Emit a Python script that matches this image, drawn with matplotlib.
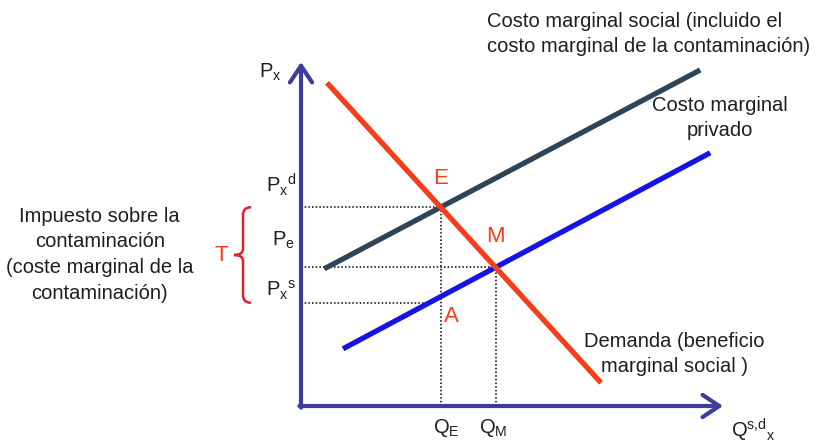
import matplotlib.pyplot as plt
import numpy as np
from matplotlib.path import Path
from matplotlib.patches import PathPatch

plt.rcParams['font.family'] = ['Liberation Sans', 'DejaVu Sans']
plt.rcParams['mathtext.fontset'] = 'custom'
plt.rcParams['mathtext.rm'] = 'Liberation Sans'
plt.rcParams['mathtext.it'] = 'Liberation Sans'

# extremos de cada curva (Q, P)
demanda_q = [0.65, 7.5]
demanda_p = [8.08, 0.58]
cms_q = [0.58, 9.98]   # costo marginal social
cms_p = [3.43, 8.40]
cmp_q = [1.05, 10.23]  # costo marginal privado
cmp_p = [1.43, 6.33]
p_s = 2.58             # precio que recibe el productor

TXT = '#1e1e1e'
ROJO = '#f53d1c'


def recta(q, p):
    m = (p[1] - p[0]) / (q[1] - q[0])
    return m, p[0] - m * q[0]


def corte(r1, r2):
    q = (r2[1] - r1[1]) / (r1[0] - r2[0])
    return q, r1[0] * q + r1[1]


dem = recta(demanda_q, demanda_p)
cms = recta(cms_q, cms_p)
cmp_ = recta(cmp_q, cmp_p)
q_e, p_d = corte(dem, cms)
q_m, p_m = corte(dem, cmp_)
q_s = (p_s - cmp_[1]) / cmp_[0]

fig = plt.figure(figsize=(8.22, 4.44), dpi=100)
ax = fig.add_axes([0, 0, 1, 1])
ax.set_xlim(-7.525, 13.025)
ax.set_ylim(-0.95, 10.15)
ax.axis('off')

# lineas punteadas
dot = dict(color='k', lw=1.1, linestyle=(0, (1, 1.4)), zorder=1)
ax.plot([0, q_e], [p_d, p_d], **dot)
ax.plot([0, q_m], [p_m, p_m], **dot)
ax.plot([0, q_s], [p_s, p_s], **dot)
ax.plot([q_e, q_e], [0, p_d], **dot)
ax.plot([q_m, q_m], [0, p_m], **dot)

# curvas
ax.plot(cms_q, cms_p, color='#2e4558', lw=3.8, solid_capstyle='butt', zorder=2)
ax.plot(cmp_q, cmp_p, color='#1414e6', lw=3.8, solid_capstyle='butt', zorder=2)
ax.plot(demanda_q, demanda_p, color=ROJO, lw=3.8, solid_capstyle='butt', zorder=3)

# ejes
eje = '#3d3d9b'
arr = dict(arrowstyle='->, head_length=0.6, head_width=0.4', color=eje, lw=3,
           mutation_scale=20, shrinkA=0, shrinkB=0)
ax.annotate('', xy=(0, 8.6), xytext=(0, -0.04), arrowprops=arr, zorder=4)
ax.annotate('', xy=(10.55, 0), xytext=(-0.04, 0), arrowprops=arr, zorder=4)

# etiquetas de ejes y precios
fs = 14.5
ax.text(-0.78, 8.35, r'$\mathregular{P_x}$', fontsize=fs, ha='center', va='center', color=TXT)
ax.text(-0.5, p_d + 0.55, r'$\mathregular{P_x{}^d}$', fontsize=fs, ha='center', va='center', color=TXT)
ax.text(-0.45, 4.15, r'$\mathregular{P_e}$', fontsize=fs, ha='center', va='center', color=TXT)
ax.text(-0.5, p_s + 0.32, r'$\mathregular{P_x{}^s}$', fontsize=fs, ha='center', va='center', color=TXT)
ax.text(q_e + 0.15, -0.55, r'$\mathregular{Q_E}$', fontsize=fs, ha='center', va='center', color=TXT)
ax.text(q_m - 0.05, -0.55, r'$\mathregular{Q_M}$', fontsize=fs, ha='center', va='center', color=TXT)
ax.text(11.3, -0.6, r'$\mathregular{Q^{s{,}d}{}_x}$', fontsize=fs, ha='center', va='center', color=TXT)

# puntos
ax.text(q_e, p_d + 0.72, 'E', fontsize=16, color=ROJO, ha='center', va='center')
ax.text(q_m, p_m + 0.78, 'M', fontsize=16, color=ROJO, ha='center', va='center')
ax.text(q_e + 0.28, 2.25, 'A', fontsize=16, color=ROJO, ha='center', va='center')

# llave del impuesto
xb, xt, xe = -1.45, -1.675, -1.25
ym = (p_d + p_s) / 2
verts = [(xe, p_d), (xb, p_d), (xb, p_d - 0.2), (xb, ym + 0.15), (xb, ym), (xt, ym),
         (xb, ym), (xb, ym - 0.15), (xb, p_s + 0.2), (xb, p_s), (xe, p_s)]
codes = [Path.MOVETO, Path.CURVE3, Path.CURVE3, Path.LINETO, Path.CURVE3, Path.CURVE3,
         Path.CURVE3, Path.CURVE3, Path.LINETO, Path.CURVE3, Path.CURVE3]
ax.add_patch(PathPatch(Path(verts, codes), fill=False, edgecolor='#e0202a', lw=1.8))
ax.text(-2.0, ym, 'T', fontsize=16, color=ROJO, ha='center', va='center')

# textos
ls = 1.45
ax.text(-5.03, 3.78, 'Impuesto sobre la\ncontaminación\n(coste marginal de la\ncontaminación)',
        fontsize=fs, ha='center', va='center', color=TXT, linespacing=ls)
ax.text(4.65, 9.3, 'Costo marginal social (incluido el\ncosto marginal de la contaminación)',
        fontsize=fs, ha='left', va='center', color=TXT, linespacing=ls)
ax.text(10.48, 7.2, 'Costo marginal\nprivado', fontsize=fs, ha='center', va='center',
        color=TXT, linespacing=ls)
ax.text(9.33, 1.3, 'Demanda (beneficio\nmarginal social )', fontsize=fs, ha='center',
        va='center', color=TXT, linespacing=ls)

fig.savefig('out.png', dpi=100)
